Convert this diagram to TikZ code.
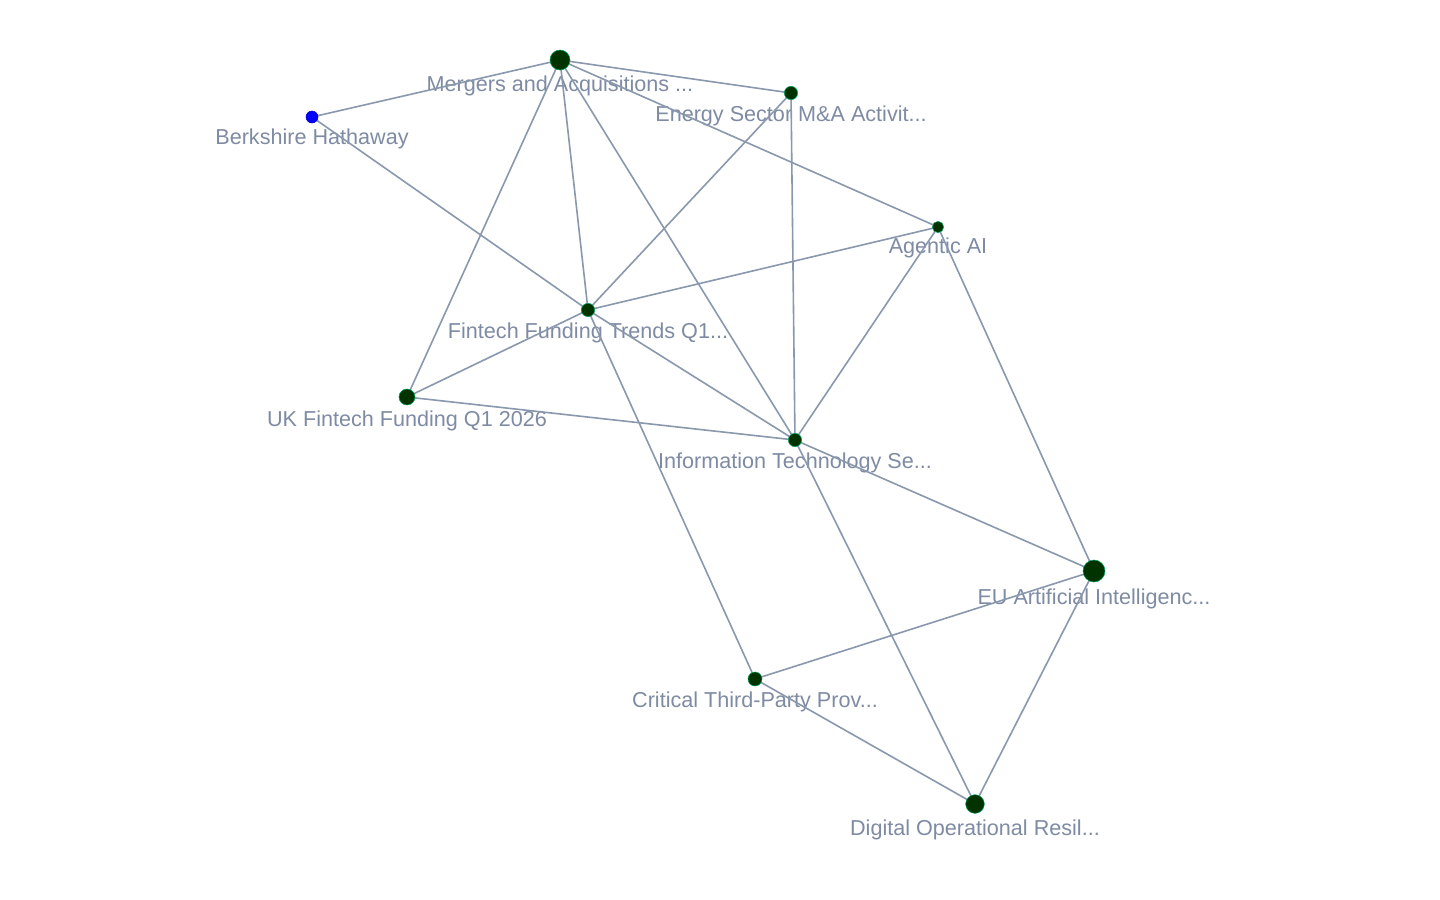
\documentclass[tikz,border=0pt]{standalone}
\usepackage{fontspec}
\setmainfont{Liberation Sans}
\definecolor{edgec}{HTML}{8A98AE}
\definecolor{labc}{HTML}{7F8BA3}
\definecolor{nodec}{HTML}{003300}
\definecolor{ringc}{HTML}{00A060}
\begin{document}
\begin{tikzpicture}[x=0.75pt,y=-0.75pt,
  vert/.style={circle,fill=nodec,draw=ringc,line width=0.4pt,inner sep=0pt,minimum size=#1},
  blue vert/.style={circle,fill=blue,draw=blue!80!black,line width=0.4pt,inner sep=0pt,minimum size=#1},
  lab/.style={text=labc,font=\fontsize{16.2}{16.2}\selectfont,inner sep=0pt,anchor=center},
  edge/.style={draw=edgec,line width=1.2pt}]
\useasboundingbox (0,0) rectangle (1440,900);
\fill[white] (0,0) rectangle (1440,900);
% coordinates
\coordinate (m) at (560,60);
\coordinate (b) at (312,117);
\coordinate (e) at (791,93);
\coordinate (a) at (938,227);
\coordinate (f) at (588,310);
\coordinate (u) at (407,397);
\coordinate (i) at (795,440);
\coordinate (eu) at (1094,571);
\coordinate (c) at (755,679);
\coordinate (d) at (975,804);
% labels
\node[lab] (lm) at (560,86) {Mergers and Acquisitions ...};
\node[lab] (lb) at (312,139) {Berkshire Hathaway};
\node[lab] (le) at (791,116) {Energy Sector M\&A Activit...};
\node[lab] (la) at (938,248) {Agentic AI};
\node[lab] (lf) at (588,333) {Fintech Funding Trends Q1...};
\node[lab] (lu) at (407,421) {UK Fintech Funding Q1 2026};
\node[lab] (li) at (795,463) {Information Technology Se...};
\node[lab] (leu) at (1094,599) {EU Artificial Intelligenc...};
\node[lab] (lc) at (755,702) {Critical Third-Party Prov...};
\node[lab] (ld) at (975,830) {Digital Operational Resil...};
% edges
\draw[edge] (m) -- (b);
\draw[edge] (m) -- (e);
\draw[edge] (m) -- (a);
\draw[edge] (m) -- (f);
\draw[edge] (m) -- (u);
\draw[edge] (m) -- (i);
\draw[edge] (b) -- (f);
\draw[edge] (e) -- (f);
\draw[edge] (e) -- (i);
\draw[edge] (a) -- (f);
\draw[edge] (a) -- (i);
\draw[edge] (a) -- (eu);
\draw[edge] (f) -- (u);
\draw[edge] (f) -- (i);
\draw[edge] (f) -- (c);
\draw[edge] (u) -- (i);
\draw[edge] (i) -- (eu);
\draw[edge] (i) -- (d);
\draw[edge] (eu) -- (c);
\draw[edge] (eu) -- (d);
\draw[edge] (c) -- (d);
% vertices
\node[vert=15pt] (nm) at (m) {};
\node[blue vert=9pt] (nb) at (b) {};
\node[vert=10pt] (ne) at (e) {};
\node[vert=8.5pt] (na) at (a) {};
\node[vert=10pt] (nf) at (f) {};
\node[vert=12pt] (nu) at (u) {};
\node[vert=10pt] (ni) at (i) {};
\node[vert=16.5pt] (neu) at (eu) {};
\node[vert=10.5pt] (nc) at (c) {};
\node[vert=14pt] (nd) at (d) {};
\end{tikzpicture}
\end{document}
